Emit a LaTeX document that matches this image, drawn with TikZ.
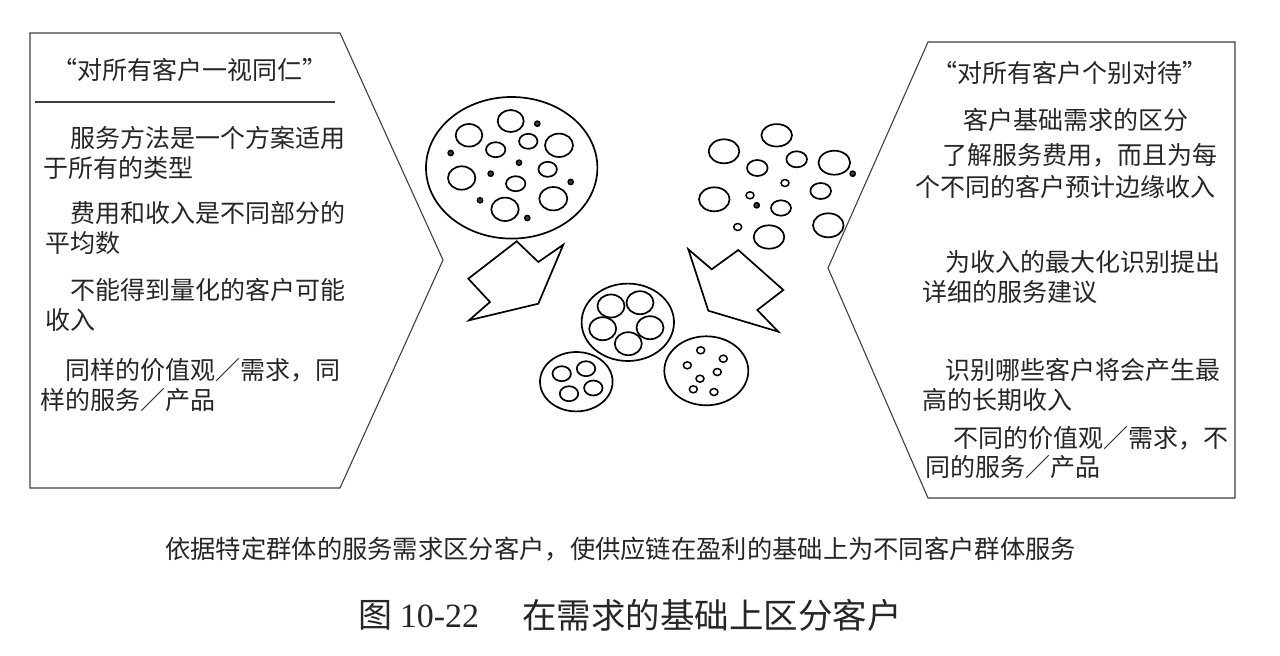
\documentclass[tikz,border=0pt]{standalone}
\usepackage{fontspec}
\setmainfont{Noto Sans CJK SC}
\newfontfamily\serifnum{Liberation Serif}
\begin{document}
\begin{tikzpicture}[x=1pt,y=-1pt,
  panel/.style={draw=black!75, line width=1.1pt, line join=miter},
  ring/.style={draw=black, line width=1.7pt},
  dotc/.style={draw=black, line width=1.5pt, fill=black!75},
  arrowshape/.style={draw=black, line width=1.7pt, line join=miter, fill=white},
  txt/.style={anchor=west, inner sep=0pt, font=\fontsize{25}{30}\selectfont, text=black!85},
  ttl/.style={anchor=center, inner sep=0pt, font=\fontsize{25}{30}\selectfont, text=black!85}]
\useasboundingbox[fill=white] (0,0) rectangle (1280,656);

% left panel
\draw[panel] (30,33) -- (340,33) -- (443,260) -- (340,488) -- (30,488) -- cycle;
\draw[black!75, line width=1.1pt] (35,102) -- (335,102);
\node[ttl] (lt) at (190,70) {“对所有客户一视同仁”};
\node[txt] (l1) at (70,138) {服务方法是一个方案适用};
\node[txt] (l2) at (43,168) {于所有的类型};
\node[txt] (l3) at (70,213) {费用和收入是不同部分的};
\node[txt] (l4) at (45,243) {平均数};
\node[txt] (l5) at (70,290) {不能得到量化的客户可能};
\node[txt] (l6) at (45,320) {收入};
\node[txt] (l7) at (65,370) {同样的价值观／需求，同};
\node[txt] (l8) at (40,400) {样的服务／产品};

% right panel
\draw[panel] (928,42) -- (1235,42) -- (1235,498) -- (928,498) -- (828,268) -- cycle;
\node[ttl] (rt) at (1070,73) {“对所有客户个别对待”};
\node[txt] (r1) at (963,120) {客户基础需求的区分};
\node[txt] (r2) at (942,155) {了解服务费用，而且为每};
\node[txt] (r3) at (915,187) {个不同的客户预计边缘收入};
\node[txt] (r4) at (945,262) {为收入的最大化识别提出};
\node[txt] (r5) at (922,292) {详细的服务建议};
\node[txt] (r6) at (945,370) {识别哪些客户将会产生最};
\node[txt] (r7) at (922,400) {高的长期收入};
\node[txt] (r8) at (953,438) {不同的价值观／需求，不};
\node[txt] (r9) at (925,467) {同的服务／产品};

% big circle with customers
\draw[ring] (511.7,167.8) ellipse [x radius=85.7pt, y radius=70.8pt];
\foreach \cx/\cy/\rx/\ry in {510.7/121/13/11, 469/135.3/13.3/11.3, 528.3/141.3/9.2/7.5,
  559/145.3/14/11.7, 495.7/149.7/9.7/7.5, 461.7/178/13.7/11.7, 547.7/169.3/9.2/7.5,
  515.7/183.7/9.7/7.5, 553.3/198.7/14/11.7, 505/209.3/13.7/11.7}
  \draw[ring] (\cx,\cy) ellipse [x radius=\rx pt, y radius=\ry pt];
\foreach \cx/\cy in {537.3/123.7, 450.7/153, 519/162.7, 490.7/173.7, 570.7/182, 480/200.3, 527.3/218}
  \draw[dotc] (\cx,\cy) circle [radius=2.6pt];

% scattered customers (right)
\foreach \cx/\cy/\rx/\ry in {776.7/135.3/15.3/11.2, 724/151.3/15.3/12, 796.7/159.3/10.3/8,
  834.3/162.7/15.8/12, 757.3/168/10.3/8, 820.7/191/10.3/8, 714.3/199.3/15.3/12,
  781/208/10/7.7, 828.3/225.3/15.3/12, 769/237/15.3/11.7}
  \draw[ring] (\cx,\cy) ellipse [x radius=\rx pt, y radius=\ry pt];
\foreach \cx/\cy in {785/183, 750/195.3, 737.7/227}
  \draw[ring, line width=1.5pt] (\cx,\cy) ellipse [x radius=4pt, y radius=3.5pt];
\foreach \cx/\cy in {852.7/173.7, 756.7/205.3}
  \draw[dotc] (\cx,\cy) circle [radius=2.6pt];

% arrows
\draw[arrowshape] (516.7,241.3) -- (538.3,262) -- (563.3,244.7) -- (538.3,303.7)
  -- (469,320.3) -- (490,302) -- (468.3,278.7) -- cycle;
\draw[arrowshape] (688.3,249.3) -- (711.7,269.3) -- (738.3,250) -- (783.3,290)
  -- (757.3,310) -- (778.3,331.7) -- (708.3,310.7) -- cycle;

% segmented groups
\draw[ring] (627.8,322.3) ellipse [x radius=46.2pt, y radius=38.7pt];
\foreach \cx/\cy in {611/306, 640/302.7, 602.7/328.7, 650/327.7, 628.3/343.7}
  \draw[ring] (\cx,\cy) ellipse [x radius=13.5pt, y radius=11.5pt];
\draw[ring] (576.3,381.7) ellipse [x radius=36.3pt, y radius=29.7pt];
\foreach \cx/\cy in {561.7/373.7, 586/368.7, 569/393.7, 593.3/388}
  \draw[ring] (\cx,\cy) ellipse [x radius=9.2pt, y radius=7.5pt];
\draw[ring] (706.3,370.8) ellipse [x radius=42pt, y radius=34.5pt];
\foreach \cx/\cy in {700.7/350.3, 723.3/358.7, 687.3/365.3, 717.3/372, 700/378.7, 693.3/389.3, 714/392}
  \draw[ring, line width=1.5pt] (\cx,\cy) ellipse [x radius=4pt, y radius=3.5pt];

% bottom texts
\node[txt, font=\fontsize{25.3}{30}\selectfont] (b1) at (165,549) {依据特定群体的服务需求区分客户，使供应链在盈利的基础上为不同客户群体服务};
\node[txt, font=\fontsize{34}{40}\selectfont] (c1) at (358,615) {图 {\serifnum 10-22}};
\node[txt, font=\fontsize{34.5}{40}\selectfont] (c2) at (522,615) {在需求的基础上区分客户};
\end{tikzpicture}
\end{document}
